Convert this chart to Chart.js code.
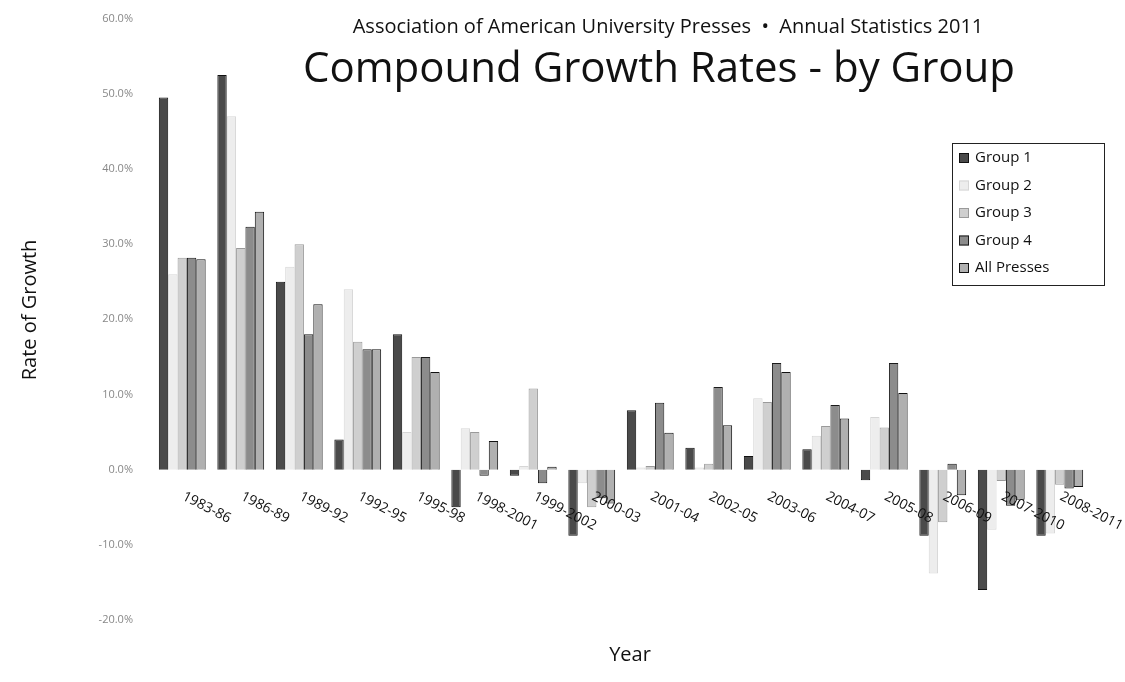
<!DOCTYPE html>
<html>
<head>
<meta charset="utf-8">
<script src="https://cdn.jsdelivr.net/npm/chart.js@4.4.1/dist/chart.umd.min.js"></script>
<style>
    html, body { margin: 0; padding: 0; background: #fff; }
    #wrap { width: 1125px; height: 682px; position: relative; }
</style>
</head>
<body>
<div id="wrap"><canvas id="growthChart"></canvas></div>
<script>
// --- DATA ---
const categories = ['1983-86', '1986-89', '1989-92', '1992-95', '1995-98', '1998-2001', '1999-2002', '2000-03',
    '2001-04', '2002-05', '2003-06', '2004-07', '2005-08', '2006-09', '2007-2010', '2008-2011'];

const group1 = [49.5, 52.5, 25.0, 4.0, 18.0, -5.0, -0.8, -8.8, 7.9, 2.9, 1.8, 2.7, -1.4, -8.8, -16.0, -8.8];
const group2 = [26.0, 47.0, 27.0, 24.0, 5.0, 5.5, 0.5, -1.8, 0.3, 0.3, 9.5, 4.5, 7.0, -13.8, -8.0, -8.5];
const group3 = [28.2, 29.5, 30.0, 17.0, 15.0, 5.0, 10.8, -5.0, 0.5, 0.8, 9.0, 5.8, 5.6, -7.0, -1.5, -2.0];
const group4 = [28.2, 32.3, 18.0, 16.0, 15.0, -0.8, -1.8, -3.8, 8.9, 11.0, 14.2, 8.6, 14.2, 0.8, -4.8, -2.5];
const allPresses = [28.0, 34.3, 22.0, 16.0, 13.0, 3.8, 0.4, -4.5, 4.9, 5.9, 13.0, 6.8, 10.2, -3.4, -4.0, -2.3];

const yMin = -20;
const yMax = 60;
const yStep = 10;

const seriesNames = ['Group 1', 'Group 2', 'Group 3', 'Group 4', 'All Presses'];
const seriesData = [group1, group2, group3, group4, allPresses];
const fills = ['#4a4a4a', '#ededed', '#cfcfcf', '#8c8c8c', '#b0b0b0'];
const borders = ['#111111', '#d6d6d6', '#9a9a9a', '#1a1a1a', '#111111'];

const FONT = '"Open Sans", "Noto Sans", sans-serif';

// --- EXTRA TEXT: titles, legend, slanted category labels ---
const decorPlugin = {
    id: 'decor',
    afterDraw(chart) {
        const ctx = chart.ctx;
        const x = chart.scales.x;
        const y = chart.scales.y;
        const zeroY = y.getPixelForValue(0);

        ctx.save();
        ctx.fillStyle = '#111';
        ctx.textAlign = 'center';
        ctx.textBaseline = 'middle';
        ctx.font = '20px ' + FONT;
        ctx.fillText('Association of American University Presses  \u2022  Annual Statistics 2011', 668, 27);
        ctx.font = '42px ' + FONT;
        ctx.fillText('Compound Growth Rates - by Group', 659, 70);

        // axis titles
        ctx.font = '20px ' + FONT;
        ctx.fillText('Year', 630, 655);
        ctx.save();
        ctx.translate(30, 310);
        ctx.rotate(-Math.PI / 2);
        ctx.fillText('Rate of Growth', 0, 0);
        ctx.restore();

        // category labels, slanted down to the right
        ctx.font = '14px ' + FONT;
        ctx.textAlign = 'left';
        categories.forEach((c, i) => {
            ctx.save();
            ctx.translate(x.getPixelForValue(i) + 1, zeroY + 26);
            ctx.rotate(27 * Math.PI / 180);
            ctx.fillText(c, 0, 0);
            ctx.restore();
        });

        // legend box
        const lx = 952, ly = 143, lw = 152, lh = 142;
        ctx.strokeStyle = '#222';
        ctx.lineWidth = 1;
        ctx.strokeRect(lx + 0.5, ly + 0.5, lw, lh);
        ctx.font = '15px ' + FONT;
        ctx.textBaseline = 'middle';
        seriesNames.forEach((name, i) => {
            const ry = ly + 15 + i * 27.5;
            ctx.fillStyle = fills[i];
            ctx.fillRect(lx + 7, ry - 5, 10, 10);
            ctx.strokeStyle = borders[i];
            ctx.strokeRect(lx + 7.5, ry - 4.5, 9, 9);
            ctx.fillStyle = '#111';
            ctx.fillText(name, lx + 23, ry);
        });
        ctx.restore();
    }
};

// --- CHART ---
document.addEventListener('DOMContentLoaded', () => {
    const ctx = document.getElementById('growthChart').getContext('2d');
    new Chart(ctx, {
        type: 'bar',
        data: {
            labels: categories,
            datasets: seriesData.map((d, i) => ({
                label: seriesNames[i],
                data: d,
                backgroundColor: fills[i],
                borderColor: borders[i],
                borderWidth: 1,
                categoryPercentage: 0.8,
                barPercentage: 1.0
            }))
        },
        options: {
            responsive: true,
            maintainAspectRatio: false,
            animation: false,
            layout: { padding: { left: 0, right: 36, top: 17, bottom: 62 } },
            plugins: {
                legend: { display: false },
                tooltip: { enabled: false }
            },
            scales: {
                x: {
                    grid: { display: false },
                    border: { display: false },
                    ticks: { display: false },
                    afterFit: s => { s.height = 0; }
                },
                y: {
                    min: yMin,
                    max: yMax,
                    grid: { display: false },
                    border: { display: false },
                    ticks: {
                        stepSize: yStep,
                        padding: 12,
                        color: '#888',
                        font: { family: FONT, size: 11 },
                        callback: v => v.toFixed(1) + '%'
                    },
                    afterFit: s => { s.width = 153; }
                }
            }
        },
        plugins: [decorPlugin]
    });
});
</script>
</body>
</html>
